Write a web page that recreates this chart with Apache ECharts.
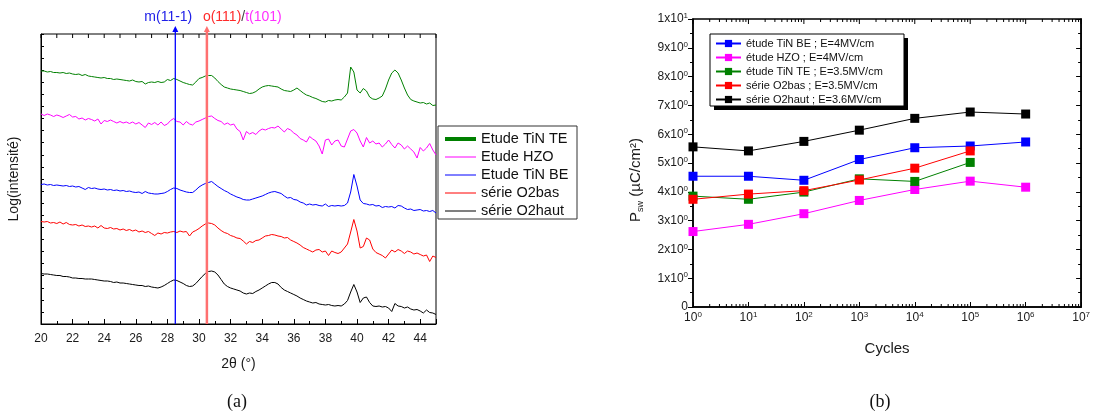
<!DOCTYPE html>
<html><head><meta charset="utf-8">
<script src="https://cdn.jsdelivr.net/npm/echarts@6/dist/echarts.min.js"></script>
<style>html,body{margin:0;padding:0;background:#fff}#c{width:1093px;height:417px}</style>
</head><body><div id="c"></div>
<script>
// ===== (a) XRD patterns: 2θ sampled from 20° every 0.2°, log intensity (arbitrary offset units) =====
const thetaStart = 20, thetaStep = 0.2;
const xrdTiNTE = [253,253,252,252.5,251.5,251.5,251,251.5,250.5,251,
250,249.5,250,248.5,249.5,248,247.5,247,246.5,246,
246.5,245.5,245.5,244.5,245,244.5,244,243.5,243,244,
242.5,242,242.5,240,241.5,242,241.5,242.5,241.5,242,
244.5,243.5,245.5,244.5,243,241.5,240.5,239.5,239,242,
245.5,246.5,248,248.5,248.5,246,242.5,239.5,237,236,
235,234.5,234,233.5,232.5,231.5,230.5,231,232.5,235,
237,238,238.5,238,237.5,237,235,233.5,233,232.5,
234,236,233.5,231,229,228,226.5,225.5,224,222.5,
222,223.5,223,224,224.5,224,227,231,257,252,
234,231,235.5,233,227,225,224.5,226,228,235,
244,251,254,251,244,236,229,224.5,223,222,
221,221.5,220,221,218.5,219];
const xrdHZO = [210,208.5,210,209,207.5,209,208,206.5,208,209.5,
207,207.5,205,206,204,205.5,204.5,203,205,200,
203.5,202.5,204,202.5,201,202.5,201,202,200.5,202,
200,201.5,199,196.5,201,199.5,201.5,199,202,198.5,
200,203.5,205.5,202.5,202,199,202.5,200,199,202,
203,204.5,206,207.5,208,205.5,203.5,202.5,199.5,201,
199,200,195,192.5,184,192.5,190,191.5,189.5,193,
195,194,195.5,196.5,196,198,195,192,195.5,194,
191,189,185.5,184,182,187.5,185,183,178,170,
184,185,179,183,184,178,177,185,193,194.5,
191,183,177,186.5,181,183,180,181,177,180,
184,179.5,176,181,179,175,178,175,172,166,
176.5,173,176,180.5,174,169];
const xrdTiNBE = [139.5,140,139,139.5,138.5,139,138.5,138,138.5,137.5,
138,137,137.5,136,134.5,136.5,135.5,136,135,134.5,
135,134,134.5,133.5,134,133,133.5,132.5,133,132,
131.5,132,130.5,132.5,131,130.5,130,130,130.5,131,
132.5,134.5,136,135.5,134,133,132,131.5,131.5,134,
137,139,140.5,141.5,142.5,140,137.5,135.5,133.5,132,
130,128.5,127,126,124.5,124,124,125,126,127,
128,129.5,131,132,132.5,131.5,130.5,128,126,126.5,
124.5,124,122,121,119,120,119,119.5,118.5,118,
120,117.5,118.5,118,118.5,118,118.5,121,132,149.5,
138,124,120.5,120,119,119.5,118,118.5,116.5,117.5,
117,117.5,116,118.5,118,116,114.5,115,113.5,114,
114.5,113,113.5,112.5,113.5,111];
const xrdO2bas = [102.5,102,102.5,101,101.5,100.5,102,100,101.5,99.5,
99,99.5,98,99,97.5,98,97,98,96,98.5,
96,95.5,96.5,95,95.5,94,95,93.5,94.5,93,
94,92,93,91.5,92.5,90.5,88.5,91,90,91.5,
91,92,92.5,91.5,93,92,92.5,88,92,93.5,
95.5,98,100,101,100.5,99,96,93.5,91.5,90.5,
88.5,87.5,86,85.5,83,80,82.5,81.5,83.5,84,
86,88,88.5,89.5,89,88,87.5,86,86.5,84,
82.5,81,79,76.5,75,73.5,72,74,74.5,72,
73,68.5,73,71.5,70.5,72,76,80,92,104.5,
93,76,77.5,86,84,75,71.5,70,68.5,66,
70,74,72,74.5,73,70.5,73,72,70,71,
69.5,68,69,62.5,68,66.5];
const xrdO2haut = [50.5,50,50,49.5,49,48.5,48.5,47.5,47.5,47,
46,46,45.5,45.5,45,45,45,44.5,44,43.5,
43,43,42.5,41.5,42,41,41,40.5,40,39.5,
39,38.5,38.5,37.5,38,37,36.5,36,37,38.5,
40.5,42.5,44,43.5,42,40.5,38.5,37.5,38,40.5,
44,47.5,50.5,52.5,53,52,49,44.5,40,37.5,
36,35,34,33,31,30,31,30.5,32.5,34,
36,38,40,41.5,41.5,40,36.5,34,32.5,31,
29.5,28,26,24.5,23,22,21,21.5,20,19.5,
19,19.5,18.5,18,18.5,18,20,23.5,32,39.5,
32,21.5,26,27,21.5,18,17.5,18,17,17.5,
16,12.5,20.5,18,17.5,16,17,15,14,14.5,
13,11,14,11.5,11,9.5];
const xrdNames = ['Etude TiN TE','Etude HZO','Etude TiN BE','série O2bas','série O2haut'];
const xrdSeries = [xrdTiNTE, xrdHZO, xrdTiNBE, xrdO2bas, xrdO2haut];
const xrdColors = ['#008000','#ff00ff','#0000ff','#ff0000','#000000'];
const refLines = [28.5, 30.5];

// ===== (b) switching polarization vs cycles =====
const cycles = [1, 10, 100, 1000, 10000, 100000, 1000000];
const pswTiNBE = [4.54, 4.54, 4.40, 5.12, 5.53, 5.59, 5.73];
const pswHZO = [2.62, 2.87, 3.24, 3.70, 4.08, 4.37, 4.16];
const pswTiNTE = [3.85, 3.74, 3.99, 4.45, 4.36, 5.02];
const pswO2bas = [3.74, 3.92, 4.04, 4.41, 4.82, 5.42];
const pswO2haut = [5.56, 5.42, 5.75, 6.14, 6.55, 6.77, 6.70];
const pswNames = ['étude TiN BE ; E=4MV/cm','étude HZO ; E=4MV/cm','étude TiN TE ; E=3.5MV/cm','série O2bas ; E=3.5MV/cm','série O2haut ; E=3.6MV/cm'];
const pswSeries = [pswTiNBE, pswHZO, pswTiNTE, pswO2bas, pswO2haut];
const pswColors = ['#0000ff','#ff00ff','#008000','#ff0000','#000000'];

const FONT = 'Liberation Sans, Arial, sans-serif';
const TXT = '#1a1a1a';

// axis decoration tick positions
const topTicksA = [];
for (let d = 20; d <= 45; d++) topTicksA.push([d, 290]);
const logTicksB = []; // [value, length, drawBottom]
for (let k = 0; k <= 7; k++) {
  logTicksB.push([Math.pow(10, k), 5, 0]);
  if (k < 7) for (let m = 2; m <= 9; m++) logTicksB.push([m * Math.pow(10, k), 3, 1]);
}

const series = [];
xrdSeries.forEach((vals, i) => {
  series.push({
    type: 'line', name: xrdNames[i], xAxisIndex: 0, yAxisIndex: 0,
    data: vals.map((v, j) => [+(thetaStart + j * thetaStep).toFixed(1), v]),
    symbol: 'none', lineStyle: { color: xrdColors[i], width: 1 }, itemStyle: { color: xrdColors[i] }, z: 2
  });
});
// top ticks of plot (a)
series.push({
  type: 'custom', xAxisIndex: 0, yAxisIndex: 0, clip: false, z: 4, silent: true,
  data: topTicksA,
  renderItem: function (params, api) {
    const p = api.coord([api.value(0), api.value(1)]);
    return { type: 'line', shape: { x1: p[0], y1: p[1], x2: p[0], y2: p[1] + 4 }, style: { stroke: '#000', lineWidth: 1 } };
  }
});
const refColors = ['#0000ff', '#ff7070'];
const refWidths = [1.3, 2.5];
series.push({
  type: 'custom', xAxisIndex: 0, yAxisIndex: 0, clip: false, z: 5, silent: true,
  data: refLines.map(v => [v, 0]),
  renderItem: function (params, api) {
    const x = api.value(0);
    const b = api.coord([x, 0]);
    const t = api.coord([x, 290]);
    const i = params.dataIndex;
    const c = refColors[i];
    const tip = t[1] - 8;
    const children = [
      { type: 'line', shape: { x1: b[0], y1: b[1], x2: b[0], y2: tip + 4 }, style: { stroke: c, lineWidth: refWidths[i] } },
      { type: 'polygon', shape: { points: [[b[0], tip], [b[0] - 3, tip + 6], [b[0] + 3, tip + 6]] }, style: { fill: c } }
    ];
    if (i === 0) {
      children.push({ type: 'text', x: b[0] - 7, y: 17, style: { text: 'm(11-1)', fill: '#2020e8', font: '14px ' + FONT, align: 'center', verticalAlign: 'middle' } });
    } else {
      children.push({ type: 'text', x: b[0] - 4, y: 17, style: { text: '{r|o(111)}{g|/}{m|t(101)}', font: '14px ' + FONT, align: 'left', verticalAlign: 'middle',
        rich: { r: { fill: '#ff2a2a', fontSize: 14, fontFamily: FONT }, g: { fill: '#444', fontSize: 14, fontFamily: FONT }, m: { fill: '#ff30ff', fontSize: 14, fontFamily: FONT } } } });
    }
    return { type: 'group', children };
  }
});
pswSeries.forEach((vals, i) => {
  series.push({
    type: 'line', name: pswNames[i], xAxisIndex: 1, yAxisIndex: 1,
    data: vals.map((v, j) => [cycles[j], v]),
    symbol: 'rect', symbolSize: 9, lineStyle: { color: pswColors[i], width: 1 }, itemStyle: { color: pswColors[i] }, z: 3
  });
});
// log ticks of plot (b): minor ticks bottom+top, major ticks top
series.push({
  type: 'custom', xAxisIndex: 1, yAxisIndex: 1, clip: false, z: 4, silent: true,
  data: logTicksB,
  renderItem: function (params, api) {
    const v = api.value(0), len = api.value(1), both = api.value(2);
    const b = api.coord([v, 0]);
    const t = api.coord([v, 10]);
    const ch = [{ type: 'line', shape: { x1: t[0], y1: t[1], x2: t[0], y2: t[1] + len }, style: { stroke: '#000', lineWidth: 1 } }];
    if (both) ch.push({ type: 'line', shape: { x1: b[0], y1: b[1], x2: b[0], y2: b[1] - len }, style: { stroke: '#000', lineWidth: 1 } });
    return { type: 'group', children: ch };
  }
});

const supRich = { s: { fontSize: 8, fontFamily: FONT, color: TXT, verticalAlign: 'top', lineHeight: 9 } };

// legend (a) drawn as plain lines + texts inside a framed box
const legendAGraphics = [
  { type: 'rect', z: 0, shape: { x: 438, y: 126, width: 139, height: 93 }, style: { fill: '#fff', stroke: '#333', lineWidth: 1 } }
];
xrdNames.forEach((n, i) => {
  const cy = 139 + i * 18;
  legendAGraphics.push({ type: 'line', z: 1, shape: { x1: 445, y1: cy, x2: 476, y2: cy }, style: { stroke: xrdColors[i], lineWidth: i === 0 ? 4 : 1 } });
  legendAGraphics.push({ type: 'text', z: 1, x: 481, y: cy, style: { text: n, font: '14.5px ' + FONT, fill: '#111', align: 'left', verticalAlign: 'middle' } });
});

const option = {
  animation: false,
  grid: [
    { left: 41, top: 34, width: 395, height: 290, show: true, borderColor: '#000', borderWidth: 1, backgroundColor: 'transparent' },
    { left: 693, top: 19, width: 392, height: 288, show: true, borderColor: '#000', borderWidth: 1.5, backgroundColor: 'transparent' }
  ],
  xAxis: [
    { gridIndex: 0, type: 'value', min: 20, max: 45, interval: 2, position: 'bottom',
      axisLine: { show: true, onZero: false, lineStyle: { color: '#000', width: 1 } },
      axisTick: { show: true, inside: true, length: 5, lineStyle: { color: '#000' } },
      minorTick: { show: true, splitNumber: 2, length: 3, lineStyle: { color: '#000' } },
      splitLine: { show: false }, minorSplitLine: { show: false },
      axisLabel: { fontSize: 12, color: TXT, fontFamily: FONT, margin: 9, formatter: v => (v % 2 === 0 ? String(v) : '') },
      name: '2θ (°)', nameLocation: 'middle', nameGap: 33, nameTextStyle: { fontSize: 14, color: TXT, fontFamily: FONT } },
    { gridIndex: 1, type: 'log', logBase: 10, min: 1, max: 10000000, splitNumber: 7, position: 'bottom',
      axisLine: { show: true, onZero: false, lineStyle: { color: '#000', width: 1.5 } },
      axisTick: { show: true, inside: true, length: 5, lineStyle: { color: '#000' } },
      splitLine: { show: false }, minorTick: { show: false },
      axisLabel: { fontSize: 12, color: TXT, fontFamily: FONT, margin: 4, lineHeight: 14,
        formatter: v => '10{s|' + Math.round(Math.log10(v)) + '}', rich: supRich },
      name: 'Cycles', nameLocation: 'middle', nameGap: 34, nameTextStyle: { fontSize: 15, color: TXT, fontFamily: FONT } }
  ],
  yAxis: [
    { gridIndex: 0, type: 'value', min: 0, max: 290, interval: 290 / 24, position: 'left',
      axisLine: { show: true, onZero: false, lineStyle: { color: '#000', width: 1 } },
      axisTick: { show: true, inside: true, length: 3, lineStyle: { color: '#000' } },
      axisLabel: { show: false }, splitLine: { show: false },
      name: 'Log(intensité)', nameLocation: 'middle', nameGap: 20, nameRotate: 90, nameTextStyle: { fontSize: 14, color: TXT, fontFamily: FONT } },
    { gridIndex: 1, type: 'value', min: 0, max: 10, interval: 1, position: 'left',
      axisLine: { show: true, onZero: false, lineStyle: { color: '#000', width: 1.5 } },
      axisTick: { show: true, inside: false, length: 5, lineStyle: { color: '#000' } },
      minorTick: { show: true, splitNumber: 2, length: 3, lineStyle: { color: '#000' } },
      splitLine: { show: false }, minorSplitLine: { show: false },
      axisLabel: { fontSize: 12, color: TXT, fontFamily: FONT, margin: 5, lineHeight: 14, rich: supRich,
        formatter: v => (v === 0 ? '0' : (v === 10 ? '1x10{s|1}' : v + 'x10{s|0}')) },
      name: 'P{sub|sw} (µC/cm²)', nameLocation: 'middle', nameGap: 48, nameRotate: 90,
      nameTextStyle: { fontSize: 15, color: TXT, fontFamily: FONT, padding: [0, 34, 0, 0], rich: { sub: { fontSize: 9, fontFamily: FONT, color: TXT, verticalAlign: 'bottom', lineHeight: 18 } } } },
    { gridIndex: 1, type: 'value', min: 0, max: 10, interval: 1, position: 'right',
      axisLine: { show: true, onZero: false, lineStyle: { color: '#000', width: 1.5 } },
      axisTick: { show: true, inside: true, length: 5, lineStyle: { color: '#000' } },
      minorTick: { show: true, splitNumber: 2, length: 3, lineStyle: { color: '#000' } },
      axisLabel: { show: false }, splitLine: { show: false }, minorSplitLine: { show: false } }
  ],
  legend: [
    { left: 715, top: 38, orient: 'vertical', itemWidth: 25, itemHeight: 9, itemGap: 3, padding: 0, selectedMode: false,
      data: pswNames,
      textStyle: { fontSize: 11, color: '#111', fontFamily: FONT } }
  ],
  graphic: legendAGraphics.concat([
    { type: 'rect', z: 0, shape: { x: 714, y: 38, width: 194, height: 72 }, style: { fill: '#000' } },
    { type: 'rect', z: 0, shape: { x: 710, y: 34, width: 194, height: 72 }, style: { fill: '#fff', stroke: '#000', lineWidth: 1 } },
    { type: 'text', x: 237, y: 402, style: { text: '(a)', font: '18px Liberation Serif, DejaVu Serif, serif', fill: '#111', align: 'center', verticalAlign: 'middle' } },
    { type: 'text', x: 880, y: 402, style: { text: '(b)', font: '18px Liberation Serif, DejaVu Serif, serif', fill: '#111', align: 'center', verticalAlign: 'middle' } }
  ]),
  series: series
};
const chart = echarts.init(document.getElementById('c'), null, { renderer: 'canvas' });
chart.setOption(option);
</script>
</body></html>
